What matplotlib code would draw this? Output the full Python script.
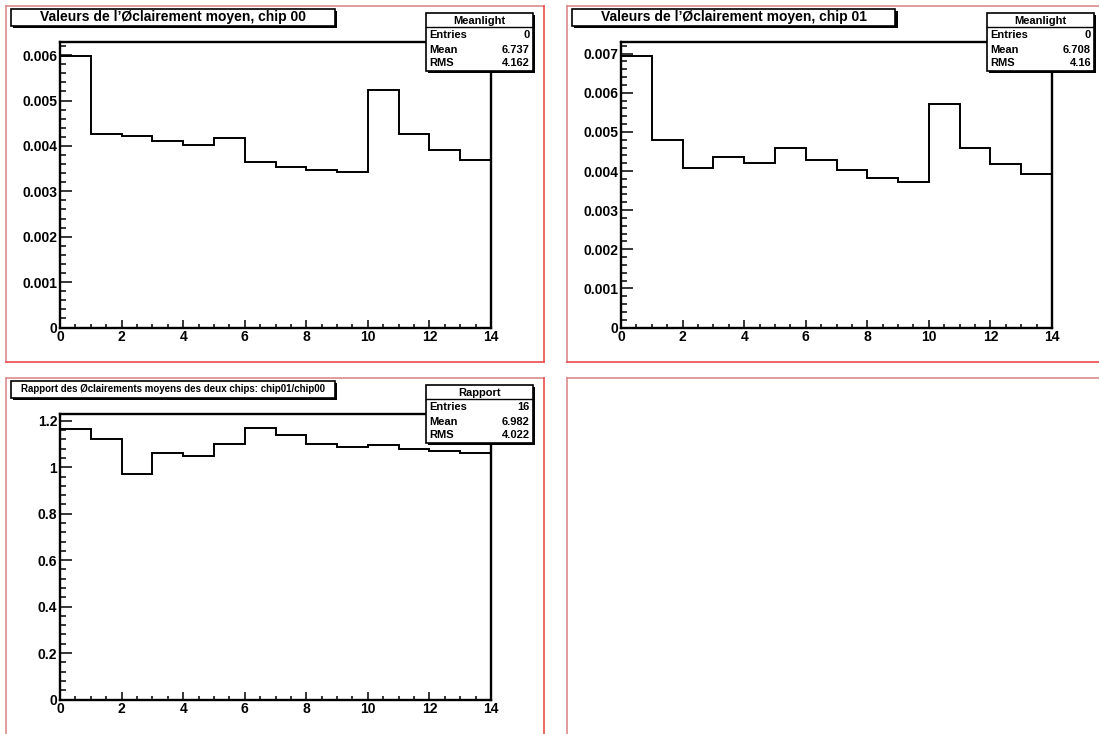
#!/usr/bin/env python3
"""Canvas 2x2 façon ROOT : éclairement moyen des deux chips et leur rapport."""
import matplotlib
matplotlib.use('Agg')
matplotlib.rcParams['font.family'] = ['Liberation Sans', 'DejaVu Sans']
matplotlib.rcParams['font.weight'] = 'bold'
import matplotlib.pyplot as plt  # noqa: E402
from matplotlib.patches import Rectangle  # noqa: E402
from matplotlib.lines import Line2D  # noqa: E402
from matplotlib.ticker import MultipleLocator, FuncFormatter  # noqa: E402

W, H = 1099, 734

bin_edges = list(range(15))
chip00 = [0.00599, 0.00427, 0.00421, 0.00410, 0.00401, 0.00417, 0.00365,
          0.00353, 0.00347, 0.00343, 0.00523, 0.00427, 0.00390, 0.00369]
chip01 = [0.00695, 0.00478, 0.00407, 0.00437, 0.00421, 0.00459, 0.00428,
          0.00402, 0.00382, 0.00373, 0.00571, 0.00459, 0.00417, 0.00393]
ratio = [1.163, 1.120, 0.970, 1.062, 1.050, 1.099, 1.171,
         1.138, 1.101, 1.088, 1.097, 1.078, 1.069, 1.061]

titles = ['Valeurs de l\u2019\u00d8clairement moyen, chip 00',
          'Valeurs de l\u2019\u00d8clairement moyen, chip 01',
          'Rapport des \u00d8clairements moyens des deux chips: chip01/chip00']
stat_names = ['Meanlight', 'Meanlight', 'Rapport']
stat_entries = ['0', '0', '16']
stat_means = ['6.737', '6.708', '6.982']
stat_rms = ['4.162', '4.16', '4.022']

fig = plt.figure(figsize=(W / 100, H / 100), dpi=100)
fig.patch.set_facecolor('white')


def fx(x):
    return x / W


def fy(y):
    return 1 - y / H


def rect_px(x0, y0, x1, y1, **kw):
    r = Rectangle((fx(x0), fy(y1)), (x1 - x0) / W, (y1 - y0) / H,
                  transform=fig.transFigure, **kw)
    fig.add_artist(r)
    return r


def line_px(x0, y0, x1, y1, **kw):
    fig.add_artist(Line2D([fx(x0), fx(x1)], [fy(y0), fy(y1)],
                          transform=fig.transFigure, **kw))


def fmt(v, _):
    return f'{round(v, 6):g}'


# bords des pads (x0, y0, x1, y1)
pads = [(6, 6, 544, 362), (567, 6, 1105, 362), (6, 378, 544, 740), (567, 378, 1105, 740)]
for (x0, y0, x1, y1) in pads:
    line_px(x0, y0, x1, y0, color='#d98c8c', lw=1.2, zorder=1)
    line_px(x0, y0, x0, y1, color='#d98c8c', lw=1.2, zorder=1)
    line_px(x1, y0, x1, y1, color='#ee4b4b', lw=1.2, zorder=1)
    line_px(x0, y1, x1, y1, color='#ee4b4b', lw=1.2, zorder=1)

series = [chip00, chip01, ratio]
for i, vals in enumerate(series):
    px, py = pads[i][0], pads[i][1]
    left, right = px + 54, px + 485
    top, bottom = py + 36, py + 321.5
    ax = fig.add_axes([fx(left), fy(bottom), (right - left) / W, (bottom - top) / H])
    ax.stairs(vals, bin_edges, color='black', lw=1.4, baseline=None)
    ax.set_xlim(0, 14)
    ax.set_ylim(0, max(vals) * 1.05)
    for s in ax.spines.values():
        s.set_linewidth(1.7)
    ax.xaxis.set_major_locator(MultipleLocator(2))
    ax.xaxis.set_minor_locator(MultipleLocator(0.5))
    step = 0.001 if i < 2 else 0.2
    ax.yaxis.set_major_locator(MultipleLocator(step))
    ax.yaxis.set_minor_locator(MultipleLocator(step / 5))
    ax.yaxis.set_major_formatter(FuncFormatter(fmt))
    ax.xaxis.set_major_formatter(FuncFormatter(fmt))
    ax.tick_params(axis='both', which='both', direction='in', top=False, right=False,
                   labelsize=10, width=1.1, colors='black')
    ax.tick_params(axis='y', which='major', length=8.6, pad=2)
    ax.tick_params(axis='y', which='minor', length=4.3)
    ax.tick_params(axis='x', which='major', length=5.5, pad=2)
    ax.tick_params(axis='x', which='minor', length=2.7)
    for lab in ax.get_xticklabels() + ax.get_yticklabels():
        lab.set_fontweight('bold')

    # boîte de titre avec ombre
    tx0, tx1 = px + 5, px + 328.5
    ty0, ty1 = py + 2.5, py + 20
    rect_px(tx0 + 2, ty0 + 2, tx1 + 2, ty1 + 2, facecolor='black', edgecolor='none', zorder=5)
    rect_px(tx0, ty0, tx1, ty1, facecolor='white', edgecolor='black', lw=1.2, zorder=6)
    fig.text(fx((tx0 + tx1) / 2), fy((ty0 + ty1) / 2), titles[i],
             ha='center', va='center', fontsize=10 if i < 2 else 7,
             fontweight='bold', zorder=7)

    # boîte de statistiques
    sx0, sx1 = px + 420, px + 527
    sy0, sy1 = py + 7, py + 64.5
    rect_px(sx0 + 2, sy0 + 2, sx1 + 2, sy1 + 2, facecolor='black', edgecolor='none', zorder=5)
    rect_px(sx0, sy0, sx1, sy1, facecolor='white', edgecolor='black', lw=1.2, zorder=6)
    line_px(sx0, py + 21, sx1, py + 21, color='black', lw=1.0, zorder=7)
    fig.text(fx((sx0 + sx1) / 2), fy(py + 14.5), stat_names[i], ha='center',
             va='center', fontsize=8, fontweight='bold', zorder=7)
    rows = [('Entries', stat_entries[i]), ('Mean', stat_means[i]), ('RMS', stat_rms[i])]
    for (name, val), yy in zip(rows, [29, 44, 56.5]):
        fig.text(fx(sx0 + 3), fy(py + yy), name, ha='left', va='center',
                 fontsize=8, fontweight='bold', zorder=7)
        fig.text(fx(sx1 - 3), fy(py + yy), val, ha='right', va='center',
                 fontsize=8, fontweight='bold', zorder=7)

fig.savefig('out.png', dpi=100)
